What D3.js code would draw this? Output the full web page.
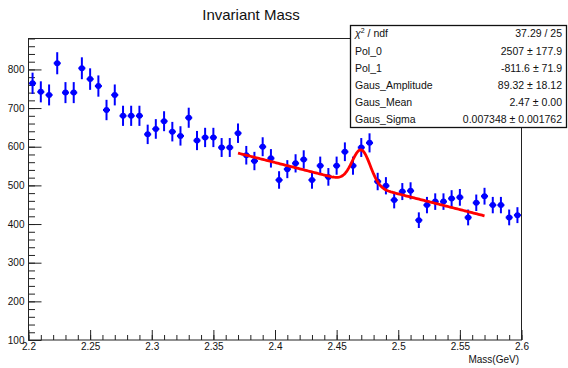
<!DOCTYPE html>
<html>
<head>
<meta charset="UTF-8">
<title>Invariant Mass</title>
<script src="https://d3js.org/d3.v7.min.js"></script>
<style>
    body { margin: 0; background: #fff; }
    svg { display: block; font-family: 'Liberation Sans', Arial, sans-serif; }
    .axis text { font-size: 10px; fill: #111; }
    .axis line { stroke: #222; }
</style>
</head>
<body>
<svg width="568" height="368"></svg>
<script>
// histogram: bin centres (GeV) and entries
const massBins = [
    2.2033, 2.2100, 2.2167, 2.2233, 2.2300, 2.2367, 2.2433, 2.2500, 2.2567, 2.2633, 2.2700, 2.2767, 2.2833, 2.2900, 2.2967,
    2.3033, 2.3100, 2.3167, 2.3233, 2.3300, 2.3367, 2.3433, 2.3500, 2.3567, 2.3633, 2.3700, 2.3767, 2.3833, 2.3900, 2.3967,
    2.4033, 2.4100, 2.4167, 2.4233, 2.4300, 2.4367, 2.4433, 2.4500, 2.4567, 2.4633, 2.4700, 2.4767, 2.4833, 2.4900, 2.4967,
    2.5033, 2.5100, 2.5167, 2.5233, 2.5300, 2.5367, 2.5433, 2.5500, 2.5567, 2.5633, 2.5700, 2.5767, 2.5833, 2.5900, 2.5967
];
const counts = [
    764, 742, 734, 816, 740, 740, 803, 775, 757, 695, 734, 680, 680, 680, 632,
    646, 666, 639, 628, 675, 616, 624, 624, 598, 598, 635, 578, 563, 600, 570,
    514, 542, 557, 567, 514, 551, 522, 551, 587, 551, 598, 610, 510, 499, 462,
    484, 486, 410, 449, 458, 458, 466, 469, 417, 455, 472, 449, 449, 417, 423
];

// fit: pol1 + gaus
const fitParams = [2507, -811.6, 89.32, 2.47, 0.007348];
const fitRange = [2.37, 2.57];

const statLabels = ["chi2", "Pol_0", "Pol_1", "Gaus_Amplitude", "Gaus_Mean", "Gaus_Sigma"];
const statValues = ["37.29 / 25", "2507 \u00b1 177.9", "-811.6 \u00b1 71.9", "89.32 \u00b1 18.12", "2.47 \u00b1 0.00", "0.007348 \u00b1 0.001762"];

const xTicks = [2.2, 2.25, 2.3, 2.35, 2.4, 2.45, 2.5, 2.55, 2.6];
const yTicks = [100, 200, 300, 400, 500, 600, 700, 800];

let svg = d3.select("svg");

let x = d3.scaleLinear().domain([2.2, 2.6]).range([28.5, 521.5]);
let y = d3.scaleLinear().domain([100, 880]).range([340, 38.5]);

// title
svg.append("text")
    .attr("x", 251)
    .attr("y", 20)
    .attr("text-anchor", "middle")
    .attr("font-size", 15)
    .attr("fill", "#111")
    .text("Invariant Mass");

// minor ticks
svg.append("g")
    .attr("class", "axis")
    .attr("transform", "translate(0,340)")
    .call(d3.axisBottom(x).tickValues(d3.range(2.2, 2.6001, 0.01)).tickSize(-5).tickFormat(""))
    .call(g => g.select(".domain").remove());
svg.append("g")
    .attr("class", "axis")
    .attr("transform", "translate(28.5,0)")
    .call(d3.axisLeft(y).tickValues(d3.range(100, 881, 20)).tickSize(-6.5).tickFormat(""))
    .call(g => g.select(".domain").remove());

// major ticks
svg.append("g")
    .attr("class", "axis")
    .attr("transform", "translate(0,340)")
    .call(d3.axisBottom(x).tickValues(xTicks).tickSize(-10).tickPadding(3).tickFormat(d => d))
    .call(g => g.select(".domain").remove());
svg.append("g")
    .attr("class", "axis")
    .attr("transform", "translate(28.5,0)")
    .call(d3.axisLeft(y).tickValues(yTicks).tickSize(-13).tickPadding(4).tickFormat(d => d))
    .call(g => g.select(".domain").remove());

// frame
svg.append("rect")
    .attr("x", x(2.2))
    .attr("y", y(880))
    .attr("width", x(2.6) - x(2.2))
    .attr("height", y(100) - y(880))
    .attr("fill", "none")
    .attr("stroke", "#222")
    .attr("stroke-width", 1);

// axis title
svg.append("text")
    .attr("x", 519)
    .attr("y", 363)
    .attr("text-anchor", "end")
    .attr("font-size", 10)
    .attr("fill", "#111")
    .text("Mass(GeV)");

// data points with errors
let binHalf = (massBins[1] - massBins[0]) / 2;
let pts = svg.append("g").selectAll("g")
    .data(massBins.map((m, i) => ({ m: m, c: counts[i] })))
    .enter().append("g");

pts.append("line")
    .attr("x1", d => x(d.m)).attr("x2", d => x(d.m))
    .attr("y1", d => y(d.c + Math.sqrt(d.c)))
    .attr("y2", d => y(d.c - Math.sqrt(d.c)))
    .attr("stroke", "#0000ff")
    .attr("stroke-width", 2);
pts.append("line")
    .attr("x1", d => x(d.m - binHalf * 0.85)).attr("x2", d => x(d.m + binHalf * 0.85))
    .attr("y1", d => y(d.c)).attr("y2", d => y(d.c))
    .attr("stroke", "#0000ff")
    .attr("stroke-width", 2);
pts.append("circle")
    .attr("cx", d => x(d.m))
    .attr("cy", d => y(d.c))
    .attr("r", 3)
    .attr("fill", "#0000ff");

// fit curve
let fitFn = m => fitParams[0] + fitParams[1] * m +
    fitParams[2] * Math.exp(-0.5 * Math.pow((m - fitParams[3]) / fitParams[4], 2));
let fitPts = d3.range(fitRange[0], fitRange[1] + 1e-9, 0.001).map(m => [m, fitFn(m)]);

svg.append("path")
    .datum(fitPts)
    .attr("fill", "none")
    .attr("stroke", "#ff0000")
    .attr("stroke-width", 2.8)
    .attr("stroke-linejoin", "round")
    .attr("d", d3.line().x(d => x(d[0])).y(d => y(d[1])));

// stat box
let statRow = d3.scaleBand().domain(statLabels).range([25, 128]);
let stat = svg.append("g");
stat.append("rect")
    .attr("x", 350.5)
    .attr("y", 25.5)
    .attr("width", 216)
    .attr("height", 102)
    .attr("fill", "#fff")
    .attr("stroke", "#111")
    .attr("stroke-width", 1.3);

let labels = stat.selectAll("text.lab")
    .data(statLabels)
    .enter().append("text")
    .attr("class", "lab")
    .attr("x", 355)
    .attr("y", d => statRow(d) + statRow.bandwidth() / 2 + 3.8)
    .attr("font-size", 10.5)
    .attr("fill", "#111");
labels.each(function (d) {
    let t = d3.select(this);
    if (d === "chi2") {
        t.append("tspan").attr("font-style", "italic").text("\u03c7");
        t.append("tspan").attr("font-size", 7).attr("dy", -4).text("2");
        t.append("tspan").attr("dy", 4).text(" / ndf");
    } else {
        t.text(d);
    }
});

stat.selectAll("text.val")
    .data(statValues)
    .enter().append("text")
    .attr("class", "val")
    .attr("x", 562)
    .attr("y", (d, i) => statRow(statLabels[i]) + statRow.bandwidth() / 2 + 3.8)
    .attr("text-anchor", "end")
    .attr("font-size", 10.5)
    .attr("fill", "#111")
    .text(d => d);
</script>
</body>
</html>
